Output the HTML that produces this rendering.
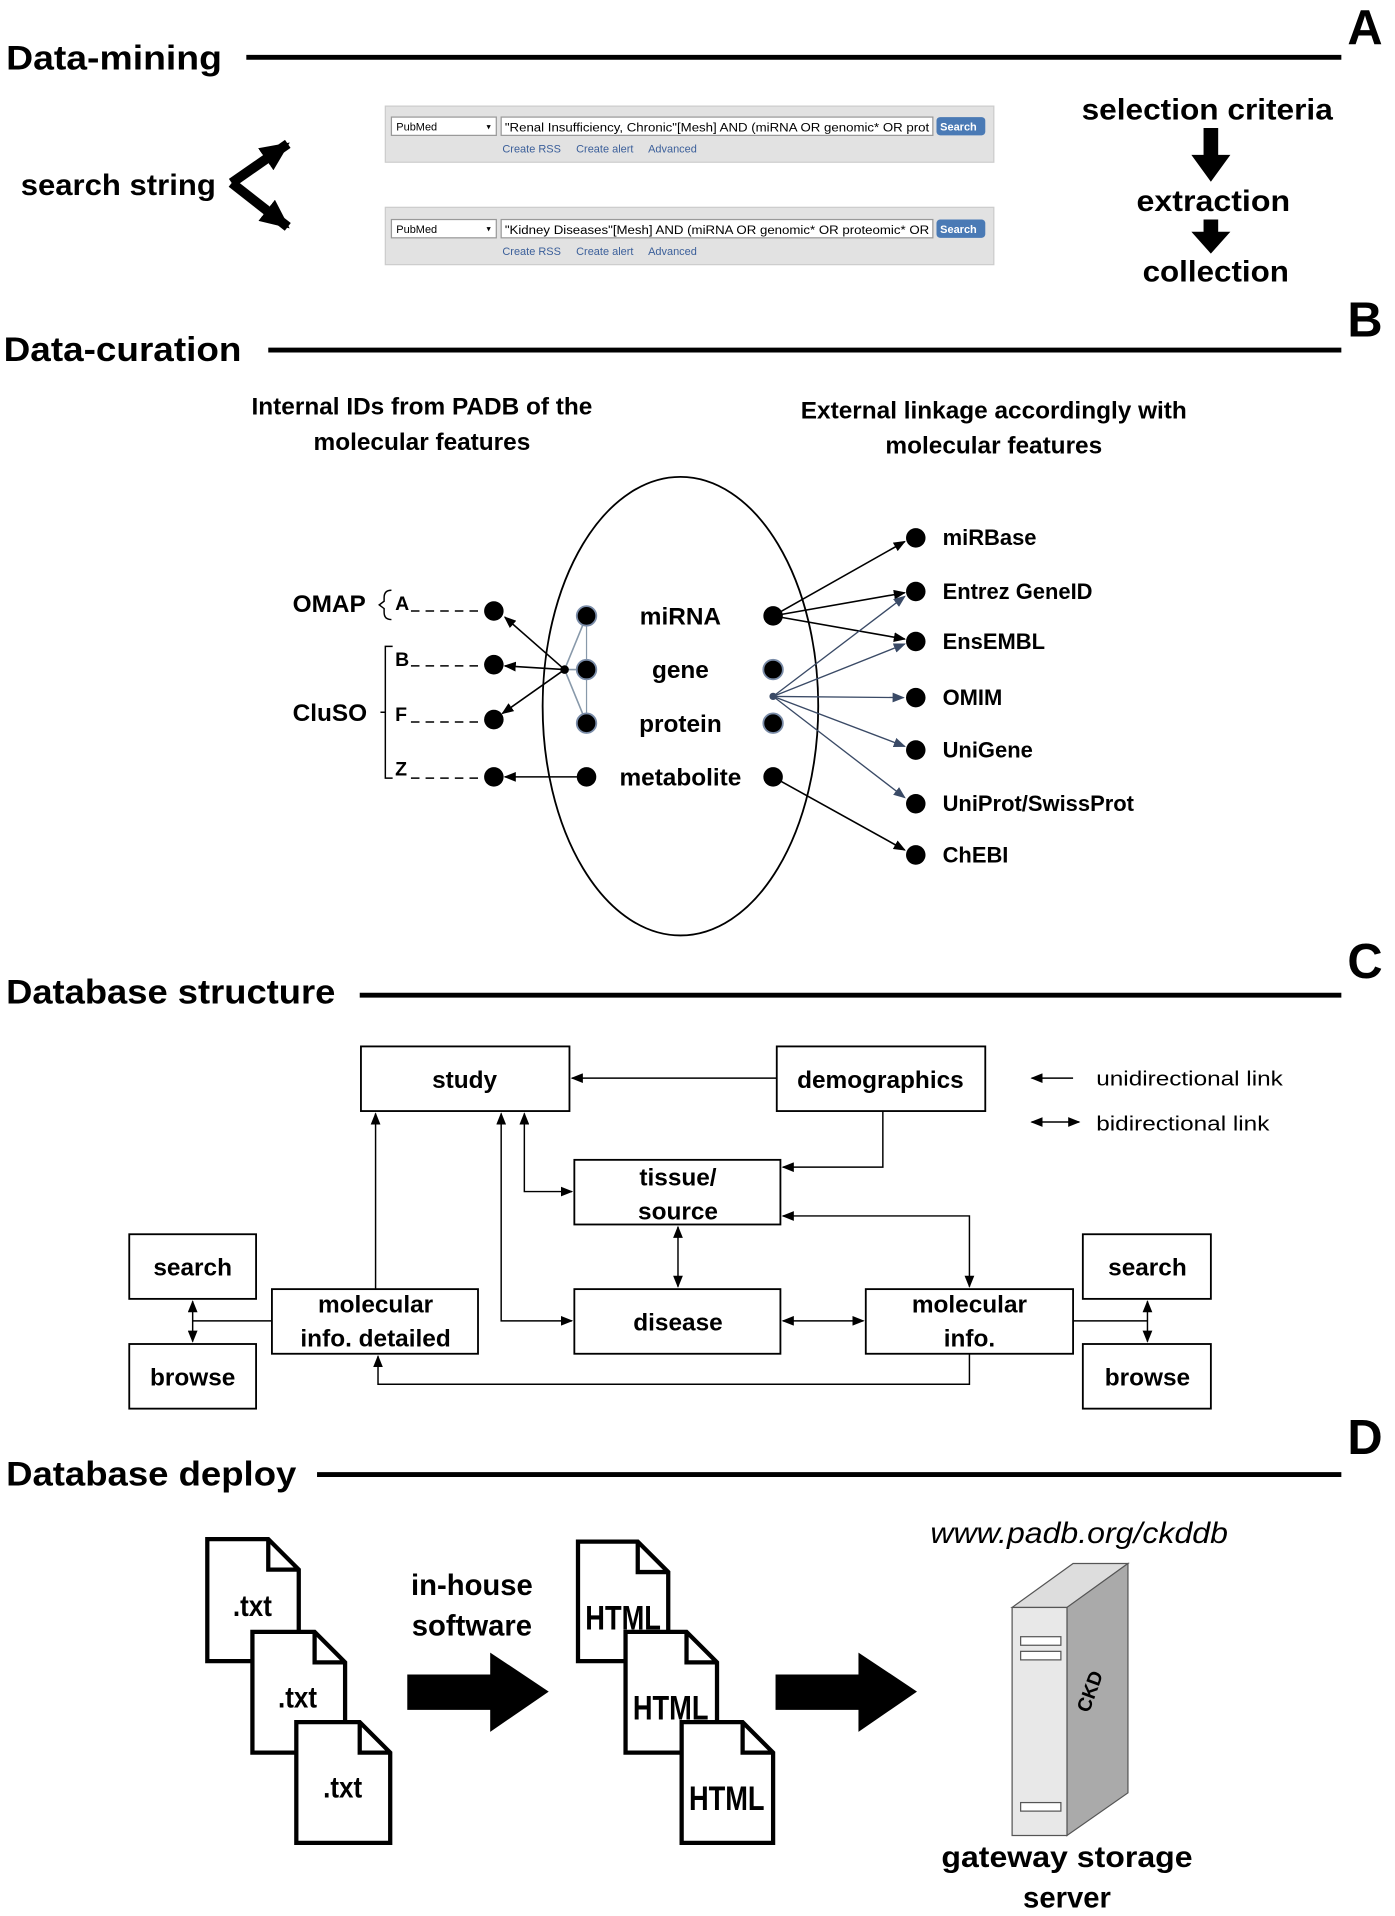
<!DOCTYPE html>
<html><head><meta charset="utf-8"><style>html,body{margin:0;padding:0;background:#fff}svg{display:block}</style></head><body>
<svg width="1395" height="1916" viewBox="0 0 1144 1571" preserveAspectRatio="none" xmlns="http://www.w3.org/2000/svg" font-family="'Liberation Sans',sans-serif">
<defs>
<marker id="a" markerWidth="10" markerHeight="8" refX="9" refY="4" orient="auto" markerUnits="userSpaceOnUse"><path d="M0,0 L10,4 L0,8 z" fill="#000"/></marker>
<marker id="as" markerWidth="10" markerHeight="8" refX="1" refY="4" orient="auto" markerUnits="userSpaceOnUse"><path d="M10,0 L0,4 L10,8 z" fill="#000"/></marker>
<marker id="ag" markerWidth="10" markerHeight="8" refX="9" refY="4" orient="auto" markerUnits="userSpaceOnUse"><path d="M0,0 L10,4 L0,8 z" fill="#3a4a66"/></marker>
<marker id="ab" markerWidth="24" markerHeight="22" refX="22" refY="11" orient="auto" markerUnits="userSpaceOnUse"><path d="M0,0 L24,11 L0,22 z" fill="#000"/></marker>
</defs>
<g font-weight="bold" fill="#000">
<text x="5" y="57" font-size="28" textLength="177" lengthAdjust="spacingAndGlyphs">Data-mining</text>
<text x="1105" y="36" font-size="40">A</text>
<text x="3" y="296" font-size="28" textLength="195" lengthAdjust="spacingAndGlyphs">Data-curation</text>
<text x="1105" y="276" font-size="40">B</text>
<text x="5" y="823" font-size="28" textLength="270" lengthAdjust="spacingAndGlyphs">Database structure</text>
<text x="1105" y="802" font-size="40">C</text>
<text x="5" y="1218" font-size="28" textLength="238" lengthAdjust="spacingAndGlyphs">Database deploy</text>
<text x="1105" y="1192" font-size="40">D</text>
</g>
<g stroke="#000" stroke-width="4">
<line x1="202" y1="47" x2="1100" y2="47"/>
<line x1="220" y1="287" x2="1100" y2="287"/>
<line x1="295" y1="816" x2="1100" y2="816"/>
<line x1="260" y1="1209" x2="1100" y2="1209"/>
</g>
<!-- A -->
<text x="17" y="160" font-size="24" font-weight="bold" textLength="160" lengthAdjust="spacingAndGlyphs">search string</text>
<path d="M190,150 L236,118" stroke="#000" stroke-width="8" fill="none" marker-end="url(#ab)"/>
<path d="M190,150 L236,186" stroke="#000" stroke-width="8" fill="none" marker-end="url(#ab)"/>
<g font-size="10">
<rect x="316" y="87" width="499" height="46" fill="#e2e2e2" stroke="#ccc"/>
<rect x="321" y="96" width="86" height="15" fill="#fff" stroke="#999"/><text x="325" y="107" font-size="9">PubMed</text><text x="399" y="106" font-size="7">▾</text>
<rect x="411" y="96" width="354" height="15" fill="#fff" stroke="#999"/><text x="414" y="108" font-size="10" textLength="348" lengthAdjust="spacingAndGlyphs">"Renal Insufficiency, Chronic"[Mesh] AND (miRNA OR genomic* OR prot</text>
<rect x="768" y="96" width="40" height="15" rx="3" fill="#4a7ab5"/><text x="771" y="107" font-size="9" fill="#fff" font-weight="bold">Search</text>
<text x="412" y="125" font-size="9" fill="#3b5f9a" xml:space="preserve">Create RSS     Create alert     Advanced</text>
<rect x="316" y="170" width="499" height="47" fill="#e2e2e2" stroke="#ccc"/>
<rect x="321" y="180" width="86" height="15" fill="#fff" stroke="#999"/><text x="325" y="191" font-size="9">PubMed</text><text x="399" y="190" font-size="7">▾</text>
<rect x="411" y="180" width="354" height="15" fill="#fff" stroke="#999"/><text x="414" y="192" font-size="10" textLength="348" lengthAdjust="spacingAndGlyphs">"Kidney Diseases"[Mesh] AND (miRNA OR genomic* OR proteomic* OR</text>
<rect x="768" y="180" width="40" height="15" rx="3" fill="#4a7ab5"/><text x="771" y="191" font-size="9" fill="#fff" font-weight="bold">Search</text>
<text x="412" y="209" font-size="9" fill="#3b5f9a" xml:space="preserve">Create RSS     Create alert     Advanced</text>
</g>
<g font-size="24" font-weight="bold" text-anchor="middle">
<text x="990" y="98" textLength="206" lengthAdjust="spacingAndGlyphs">selection criteria</text>
<text x="995" y="173" textLength="126" lengthAdjust="spacingAndGlyphs">extraction</text>
<text x="997" y="231" textLength="120" lengthAdjust="spacingAndGlyphs">collection</text>
</g>
<path d="M987,105 h12 v22 h10 l-16,22 l-16,-22 h10z" fill="#000"/>
<path d="M987,180 h12 v10 h10 l-16,18 l-16,-18 h10z" fill="#000"/>
<!-- B -->
<g font-size="20" font-weight="bold" text-anchor="middle">
<text x="346" y="340">Internal IDs from PADB of the</text>
<text x="346" y="369">molecular features</text>
<text x="815" y="343">External linkage accordingly with</text>
<text x="815" y="372">molecular features</text>
</g>
<ellipse cx="558" cy="579" rx="113" ry="188" fill="none" stroke="#000" stroke-width="1.5"/>
<line x1="481" y1="505" x2="481" y2="593" stroke="#8899aa" stroke-width="1"/>
<g stroke="#000" stroke-width="1.3">
<line x1="463" y1="549" x2="481" y2="505" stroke="#8899aa"/><line x1="463" y1="549" x2="481" y2="593" stroke="#8899aa"/><line x1="463" y1="549" x2="481" y2="549" stroke="#8899aa"/>
<line x1="463" y1="549" x2="414" y2="506" marker-end="url(#a)"/>
<line x1="463" y1="549" x2="414" y2="546" marker-end="url(#a)"/>
<line x1="463" y1="549" x2="412" y2="585" marker-end="url(#a)"/>
<line x1="481" y1="637" x2="414" y2="637" marker-end="url(#a)"/>
<line x1="634" y1="505" x2="742" y2="444" marker-end="url(#a)"/>
<line x1="634" y1="505" x2="742" y2="486" marker-end="url(#a)"/>
<line x1="634" y1="505" x2="742" y2="524" marker-end="url(#a)"/>
<line x1="634" y1="637" x2="742" y2="697" marker-end="url(#a)"/>
</g>
<g stroke="#3a4a66" stroke-width="1.1">
<line x1="634" y1="571" x2="742" y2="489" marker-end="url(#ag)"/>
<line x1="634" y1="571" x2="742" y2="528" marker-end="url(#ag)"/>
<line x1="634" y1="571" x2="741" y2="572" marker-end="url(#ag)"/>
<line x1="634" y1="571" x2="742" y2="612" marker-end="url(#ag)"/>
<line x1="634" y1="571" x2="742" y2="654" marker-end="url(#ag)"/>
</g>
<circle cx="463" cy="549" r="3.5"/><circle cx="634" cy="571" r="3" fill="#3a4a66"/>
<g fill="#000" stroke="#7a8ca8" stroke-width="1.5">
<circle cx="481" cy="505" r="8"/><circle cx="481" cy="549" r="8"/><circle cx="481" cy="593" r="8"/><circle cx="481" cy="637" r="8" stroke="none"/>
<circle cx="634" cy="505" r="8" stroke="none"/><circle cx="634" cy="549" r="8"/><circle cx="634" cy="593" r="8"/><circle cx="634" cy="637" r="8" stroke="none"/>
</g>
<g fill="#000"><circle cx="405" cy="501" r="8"/><circle cx="405" cy="545" r="8"/><circle cx="405" cy="590" r="8"/><circle cx="405" cy="637" r="8"/>
<circle cx="751" cy="441" r="8"/><circle cx="751" cy="485" r="8"/><circle cx="751" cy="526" r="8"/><circle cx="751" cy="572" r="8"/><circle cx="751" cy="615" r="8"/><circle cx="751" cy="659" r="8"/><circle cx="751" cy="701" r="8"/></g>
<g font-size="20" font-weight="bold" text-anchor="middle">
<text x="558" y="512">miRNA</text><text x="558" y="556">gene</text><text x="558" y="600">protein</text><text x="558" y="644">metabolite</text>
</g>
<g font-size="18" font-weight="bold">
<text x="773" y="447">miRBase</text><text x="773" y="491">Entrez GeneID</text><text x="773" y="532">EnsEMBL</text><text x="773" y="578">OMIM</text><text x="773" y="621">UniGene</text><text x="773" y="665">UniProt/SwissProt</text><text x="773" y="707">ChEBI</text>
<text x="240" y="502" font-size="20">OMAP</text><text x="240" y="591" font-size="20">CluSO</text>
<text x="324" y="500" font-size="16">A</text><text x="324" y="546" font-size="16">B</text><text x="324" y="591" font-size="16">F</text><text x="324" y="636" font-size="16">Z</text>
</g>
<g stroke="#000" stroke-width="1.2" fill="none">
<path d="M321,484 q-6,0 -6,6 v3 l-4,3 l4,3 v3 q0,6 6,6"/>
<path d="M322,530 h-6 v108 h6 M316,584 h-4"/>
<g stroke-dasharray="7,5"><line x1="337" y1="501" x2="397" y2="501"/><line x1="337" y1="546" x2="397" y2="546"/><line x1="337" y1="592" x2="397" y2="592"/><line x1="337" y1="638" x2="397" y2="638"/></g>
</g>
<!-- C -->
<g fill="#fff" stroke="#000" stroke-width="1.5">
<rect x="296" y="858" width="171" height="53"/><rect x="637" y="858" width="171" height="53"/>
<rect x="471" y="951" width="169" height="53"/><rect x="471" y="1057" width="169" height="53"/>
<rect x="223" y="1057" width="169" height="53"/><rect x="710" y="1057" width="170" height="53"/>
<rect x="106" y="1012" width="104" height="53"/><rect x="106" y="1102" width="104" height="53"/>
<rect x="888" y="1012" width="105" height="53"/><rect x="888" y="1102" width="105" height="53"/>
</g>
<g font-size="20" font-weight="bold" text-anchor="middle">
<text x="381" y="892">study</text><text x="722" y="892">demographics</text>
<text x="556" y="972">tissue/</text><text x="556" y="1000">source</text>
<text x="556" y="1091">disease</text>
<text x="308" y="1076">molecular</text><text x="308" y="1104">info. detailed</text>
<text x="795" y="1076">molecular</text><text x="795" y="1104">info.</text>
<text x="158" y="1046">search</text><text x="158" y="1136">browse</text>
<text x="941" y="1046">search</text><text x="941" y="1136">browse</text>
</g>
<g font-size="17"><text x="899" y="890" textLength="153" lengthAdjust="spacingAndGlyphs">unidirectional link</text><text x="899" y="927" textLength="142" lengthAdjust="spacingAndGlyphs">bidirectional link</text></g>
<g stroke="#000" stroke-width="1.2" fill="none">
<line x1="880" y1="884" x2="846" y2="884" marker-end="url(#a)"/>
<line x1="846" y1="920" x2="885" y2="920" marker-start="url(#as)" marker-end="url(#a)"/>
<line x1="637" y1="884" x2="469" y2="884" marker-end="url(#a)"/>
<path d="M724,911 V957 H642" marker-end="url(#a)"/>
<path d="M430,913 V977 H469" marker-start="url(#as)" marker-end="url(#a)"/>
<path d="M411,913 V1083 H469" marker-start="url(#as)" marker-end="url(#a)"/>
<line x1="556" y1="1006" x2="556" y2="1055" marker-start="url(#as)" marker-end="url(#a)"/>
<path d="M642,997 H795 V1055" marker-start="url(#as)" marker-end="url(#a)"/>
<line x1="642" y1="1083" x2="708" y2="1083" marker-start="url(#as)" marker-end="url(#a)"/>
<path d="M795,1110 V1135 H310 V1112" marker-end="url(#a)"/>
<line x1="308" y1="1057" x2="308" y2="913" marker-end="url(#a)"/>
<line x1="223" y1="1083" x2="158" y2="1083"/>
<line x1="158" y1="1067" x2="158" y2="1100" marker-start="url(#as)" marker-end="url(#a)"/>
<line x1="880" y1="1083" x2="941" y2="1083"/>
<line x1="941" y1="1067" x2="941" y2="1100" marker-start="url(#as)" marker-end="url(#a)"/>
</g>
<!-- D -->
<g fill="#fff" stroke="#000" stroke-width="3.5">
<path d="M170,1262 h50 l25,25 v75 h-75z M220,1262 v25 h25"/>
<path d="M207,1338 h51 l25,25 v74 h-76z M258,1338 v25 h25"/>
<path d="M243,1412 h52 l25,25 v74 h-77z M295,1412 v25 h25"/>
<path d="M474,1264 h49 l25,25 v73 h-74z M523,1264 v25 h25"/>
<path d="M513,1338 h50 l25,25 v74 h-75z M563,1338 v25 h25"/>
<path d="M559,1412 h50 l25,25 v74 h-75z M609,1412 v25 h25"/>
</g>
<g font-size="24" font-weight="bold" text-anchor="middle">
<text x="207" y="1325" textLength="32" lengthAdjust="spacingAndGlyphs">.txt</text><text x="244" y="1400" textLength="32" lengthAdjust="spacingAndGlyphs">.txt</text><text x="281" y="1474" textLength="32" lengthAdjust="spacingAndGlyphs">.txt</text>
<text x="511" y="1336" font-size="28" textLength="62" lengthAdjust="spacingAndGlyphs">HTML</text><text x="550" y="1410" font-size="28" textLength="62" lengthAdjust="spacingAndGlyphs">HTML</text><text x="596" y="1484" font-size="28" textLength="62" lengthAdjust="spacingAndGlyphs">HTML</text>
<text x="387" y="1308">in-house</text><text x="387" y="1341">software</text>
<text x="875" y="1531" textLength="206" lengthAdjust="spacingAndGlyphs">gateway storage</text><text x="875" y="1564">server</text>
</g>
<path d="M334,1373 h68 v-18 l48,32 l-48,33 v-18 h-68z" fill="#000"/>
<path d="M636,1373 h68 v-18 l48,32 l-48,33 v-18 h-68z" fill="#000"/>
<text x="885" y="1265" font-size="24" font-style="italic" text-anchor="middle" textLength="244" lengthAdjust="spacingAndGlyphs">www.padb.org/ckddb</text>
<g stroke="#555" stroke-width="1">
<path d="M830,1318 L880,1282 L925,1282 L875,1318z" fill="#ddd"/>
<path d="M875,1318 L925,1282 V1470 L875,1505z" fill="#aaa"/>
<rect x="830" y="1318" width="45" height="187" fill="#e8e8e8"/>
<rect x="837" y="1342" width="33" height="7" fill="#fff"/><rect x="837" y="1354" width="33" height="7" fill="#fff"/>
<rect x="837" y="1478" width="33" height="7" fill="#fff"/>
</g>
<text x="0" y="0" font-size="16" font-weight="bold" transform="translate(893,1405) rotate(-70)">CKD</text>
</svg>
</body></html>
